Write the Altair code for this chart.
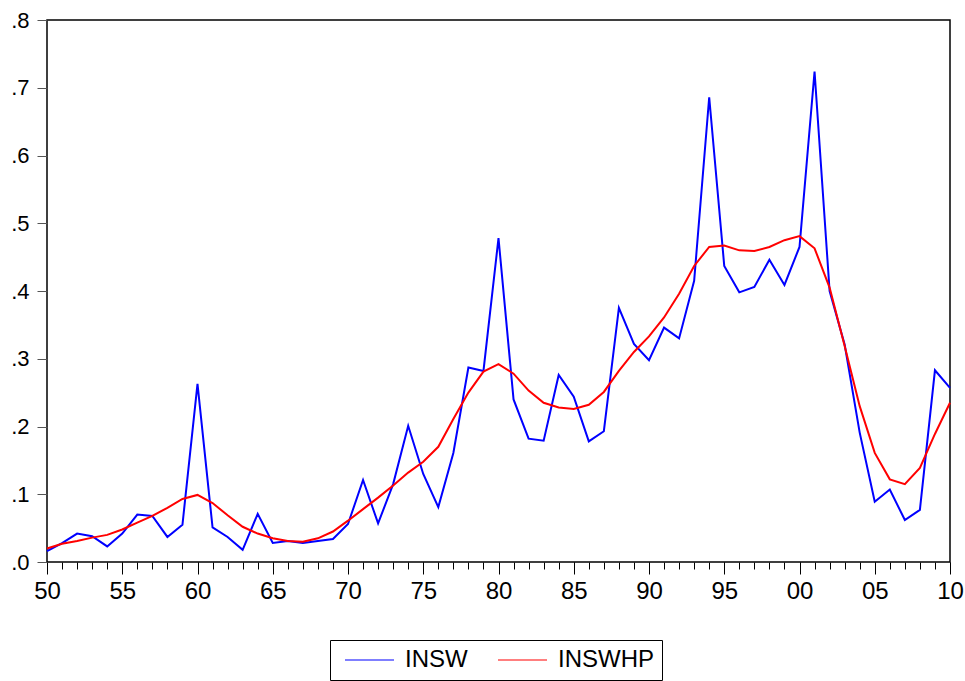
import altair as alt
import pandas as pd

years = list(range(1950, 2011))

insw = [
    0.016, 0.028, 0.042, 0.038, 0.023, 0.042, 0.070, 0.068, 0.037, 0.055,
    0.263, 0.051, 0.037, 0.018, 0.071, 0.028, 0.031, 0.028, 0.031, 0.034,
    0.056, 0.121, 0.057, 0.115, 0.201, 0.130, 0.081, 0.161, 0.287, 0.282,
    0.478, 0.240, 0.182, 0.179, 0.276, 0.244, 0.178, 0.193, 0.375, 0.322,
    0.298, 0.346, 0.330, 0.415, 0.686, 0.437, 0.398, 0.406, 0.446, 0.409,
    0.465, 0.724, 0.400, 0.321, 0.191, 0.089, 0.107, 0.062, 0.077, 0.283,
    0.257,
]

inswhp = [
    0.020, 0.027, 0.031, 0.036, 0.040, 0.048, 0.058, 0.068, 0.080, 0.093,
    0.099, 0.087, 0.069, 0.052, 0.042, 0.035, 0.031, 0.030, 0.035, 0.045,
    0.061, 0.078, 0.095, 0.113, 0.132, 0.148, 0.170, 0.211, 0.250, 0.281,
    0.292, 0.278, 0.253, 0.235, 0.228, 0.226, 0.232, 0.251, 0.282, 0.310,
    0.333, 0.361, 0.396, 0.437, 0.465, 0.467, 0.460, 0.459, 0.465, 0.475,
    0.481, 0.463, 0.405, 0.319, 0.230, 0.161, 0.122, 0.115, 0.139, 0.189,
    0.235,
]

series_names = ["INSW", "INSWHP"]
series_colors = ["#0000FF", "#FF0000"]
major_ticks = [1950, 1955, 1960, 1965, 1970, 1975, 1980, 1985, 1990, 1995, 2000, 2005, 2010]
y_ticks = [0.0, 0.1, 0.2, 0.3, 0.4, 0.5, 0.6, 0.7, 0.8]

df = pd.DataFrame({
    "year": years + years,
    "value": insw + inswhp,
    "series": [series_names[0]] * len(years) + [series_names[1]] * len(years),
})

FONT = "Liberation Sans"

xscale = alt.Scale(domain=[1950, 2010], nice=False, zero=False)
yscale = alt.Scale(domain=[0, 0.8], nice=False, zero=False)

minor = alt.Chart(df).mark_line(opacity=0).encode(
    x=alt.X("year:Q", scale=xscale,
            axis=alt.Axis(values=years, tickSize=7, labels=False, domain=False,
                          grid=False, title=None, orient="bottom",
                          tickColor="black", tickWidth=1)),
    y=alt.Y("value:Q", scale=yscale, axis=None),
    detail="series:N",
)

lines = alt.Chart(df).mark_line(strokeWidth=2).encode(
    x=alt.X("year:Q", scale=xscale,
            axis=alt.Axis(values=major_ticks, tickSize=12,
                          labelExpr="substring(format(datum.value, 'd'), 2)",
                          labelFontSize=24, labelFont=FONT, labelPadding=5,
                          labelFlush=False, labelOverlap=False, labelBound=False,
                          labelColor="black", domain=False, grid=False,
                          title=None, orient="bottom", tickColor="black",
                          tickWidth=1)),
    y=alt.Y("value:Q", scale=yscale,
            axis=alt.Axis(values=y_ticks, tickSize=10,
                          labelExpr="substring(format(datum.value, '.1f'), 1)",
                          labelFontSize=22, labelFont=FONT, labelPadding=8,
                          labelFlush=False, labelOverlap=False,
                          labelColor="black", domain=False, grid=False,
                          title=None, orient="left", tickColor="#555555",
                          tickWidth=1)),
    color=alt.Color("series:N",
                    scale=alt.Scale(domain=series_names, range=series_colors),
                    legend=alt.Legend(title=None, orient="none", legendX=283,
                                      legendY=620, direction="horizontal",
                                      symbolType="stroke", symbolSize=2401,
                                      symbolStrokeWidth=1.2, clipHeight=24,
                                      labelFontSize=24, labelFont=FONT,
                                      labelColor="black", labelOffset=10,
                                      symbolOffset=6, columnPadding=23,
                                      padding=8, strokeColor="black",
                                      fillColor="white", cornerRadius=0,
                                      labelLimit=400)),
)

chart = (
    alt.layer(minor, lines)
    .resolve_axis(x="independent", y="independent")
    .properties(
        width=903,
        height=542,
        padding={"left": 47, "top": 20, "right": 15, "bottom": 119},
        autosize=alt.AutoSizeParams(type="none"),
        background="white",
    )
    .configure_view(stroke="black", strokeWidth=1.5)
)

chart.save("out.html", embed_options={"renderer": "svg", "actions": False})
